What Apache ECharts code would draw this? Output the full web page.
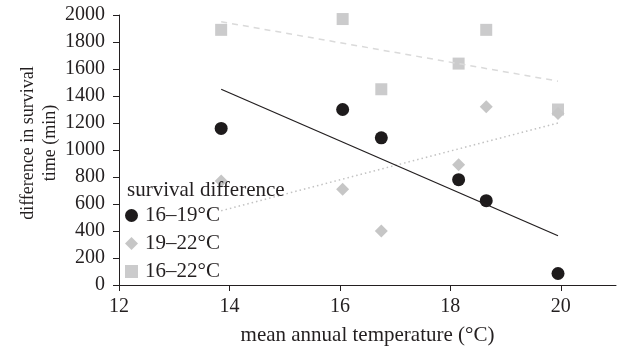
<!DOCTYPE html>
<html>
<head>
<meta charset="utf-8">
<script src="https://cdn.jsdelivr.net/npm/echarts@6/dist/echarts.min.js"></script>
<style>
  html, body { margin: 0; padding: 0; background: #fff; }
  #chart { width: 625px; height: 347px; }
</style>
</head>
<body>
<div id="chart"></div>
<script>
// mean annual temperature of each site
const temps = [13.85, 16.05, 16.75, 18.15, 18.65, 19.95];
// difference in survival time (min)
const diff1619 = [1160, 1300, 1090, 780, 625, 85];
const diff1922 = [770, 710, 400, 890, 1320, 1270];
const diff1622 = [1890, 1970, 1450, 1640, 1890, 1300];
// trend line end points
const trendX = [13.85, 19.95];
const trend1619 = [1450, 365];
const trend1922 = [550, 1200];
const trend1622 = [1950, 1510];
const seriesNames = ['16–19°C', '19–22°C', '16–22°C'];

const FONT = 'Liberation Serif';
const INK = '#231f20';
const pairs = (xs, ys) => xs.map((x, i) => [x, ys[i]]);

const chart = echarts.init(document.getElementById('chart'));

chart.setOption({
    backgroundColor: '#fff',
    animation: false,
    textStyle: { fontFamily: FONT, color: INK },
    title: {
        text: 'survival difference',
        left: 127,
        top: 180,
        padding: 0,
        textStyle: { fontFamily: FONT, fontSize: 21, fontWeight: 'normal', color: INK }
    },
    legend: {
        data: [
            { name: seriesNames[0], icon: 'circle' },
            { name: seriesNames[1], icon: 'diamond' },
            { name: seriesNames[2], icon: 'rect' }
        ],
        orient: 'vertical',
        left: 125,
        top: 205,
        padding: 0,
        itemGap: 7,
        itemWidth: 13,
        itemHeight: 13,
        textStyle: { fontFamily: FONT, fontSize: 21, color: INK, padding: [0, 0, 0, 2] }
    },
    grid: { left: 119, right: 9, top: 15, bottom: 62, containLabel: false, outerBoundsMode: 'none' },
    xAxis: {
        type: 'value',
        min: 12,
        max: 21,
        interval: 2,
        name: 'mean annual temperature (°C)',
        nameLocation: 'middle',
        nameGap: 40,
        nameMoveOverlap: false,
        nameTextStyle: { fontFamily: FONT, fontSize: 21, color: INK },
        axisLine: { lineStyle: { color: INK, width: 1 } },
        axisTick: { show: true, length: 6, lineStyle: { color: INK } },
        axisLabel: { fontFamily: FONT, fontSize: 20, color: INK, margin: 12, showMaxLabel: false },
        splitLine: { show: false }
    },
    yAxis: {
        type: 'value',
        min: 0,
        max: 2000,
        interval: 200,
        name: 'difference in survival\ntime (min)',
        nameLocation: 'middle',
        nameGap: 58,
        nameMoveOverlap: false,
        nameRotate: 90,
        nameTextStyle: { fontFamily: FONT, fontSize: 18, color: INK, lineHeight: 22, padding: [0, 0, 0, 14] },
        axisLine: { show: true, lineStyle: { color: INK, width: 1 } },
        axisTick: { show: true, length: 6, lineStyle: { color: INK } },
        axisLabel: { fontFamily: FONT, fontSize: 20, color: INK, margin: 14, formatter: v => String(v) },
        splitLine: { show: false }
    },
    series: [
        {
            type: 'line',
            data: pairs(trendX, trend1622),
            symbol: 'none',
            lineStyle: { color: '#dadada', width: 1.5, type: [6, 5] },
            silent: true
        },
        {
            type: 'line',
            data: pairs(trendX, trend1922),
            symbol: 'none',
            lineStyle: { color: '#c2c2c2', width: 1.5, type: [1.5, 3] },
            silent: true
        },
        {
            type: 'line',
            data: pairs(trendX, trend1619),
            symbol: 'none',
            lineStyle: { color: INK, width: 1.3 },
            silent: true
        },
        {
            name: seriesNames[2],
            type: 'scatter',
            symbol: 'rect',
            symbolSize: 12,
            itemStyle: { color: '#cbcbcc', opacity: 1 },
            data: pairs(temps, diff1622)
        },
        {
            name: seriesNames[1],
            type: 'scatter',
            symbol: 'diamond',
            symbolSize: 13,
            itemStyle: { color: '#c6c6c6', opacity: 1 },
            data: pairs(temps, diff1922)
        },
        {
            name: seriesNames[0],
            type: 'scatter',
            symbol: 'circle',
            symbolSize: 13,
            itemStyle: { color: '#1e1b1c', opacity: 1 },
            data: pairs(temps, diff1619)
        }
    ]
});
</script>
</body>
</html>
